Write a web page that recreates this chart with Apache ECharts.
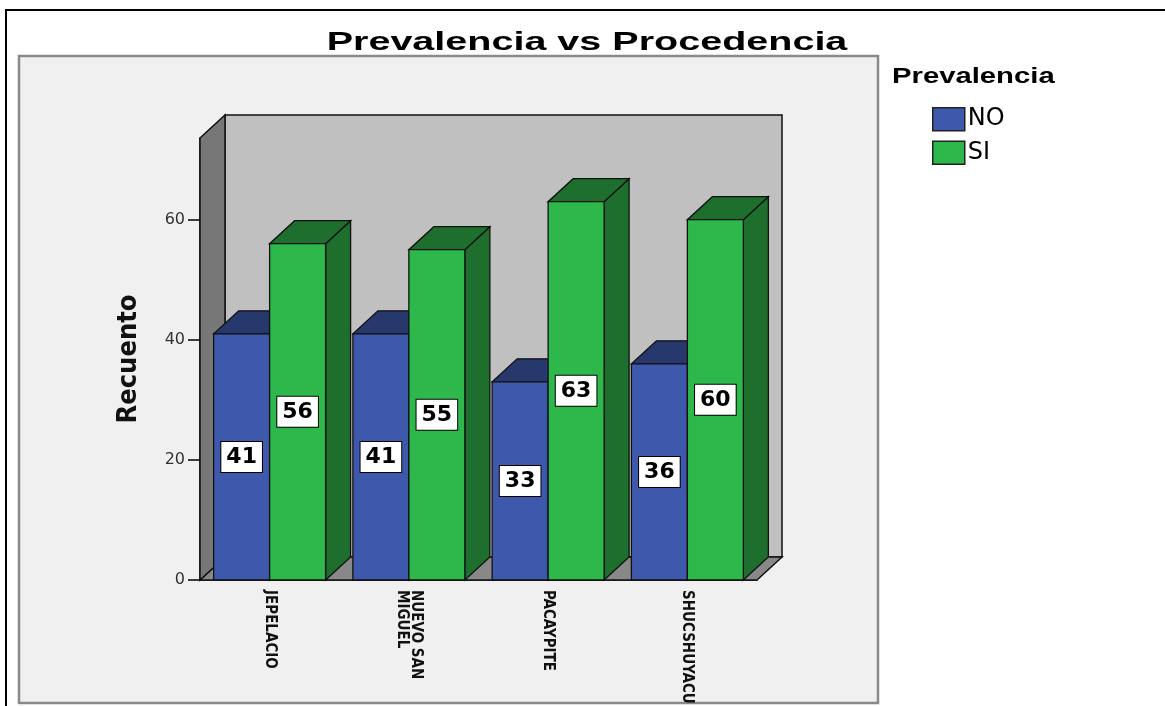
<!DOCTYPE html>
<html>
<head>
<meta charset="utf-8">
<script src="https://cdn.jsdelivr.net/npm/echarts@6/dist/echarts.min.js"></script>
<style>
  html, body { margin: 0; padding: 0; background: #ffffff; }
  #chart { width: 1165px; height: 706px; }
</style>
</head>
<body>
<div id="chart"></div>
<script>
// Procedencia categories and counts per Prevalencia group
const categories = ['JEPELACIO', 'NUEVO SAN\nMIGUEL', 'PACAYPITE', 'SHUCSHUYACU'];
const seriesNames = ['NO', 'SI'];
const valuesNO = [41, 41, 33, 36];
const valuesSI = [56, 55, 63, 60];
const yTickLabels = [0, 20, 40, 60];
const yInterval = 20;
const yMax = 73.6;

// 3D look: depth offset of the chamber and bars (pixels)
const DX = 25, DY = -23;
const BAR_RATIO = 0.402;
const EDGE = '#111111';
const NARROW = "'Liberation Sans Narrow', 'DejaVu Sans Condensed', 'Liberation Sans', sans-serif";

const palette = {
  NO: { front: '#3e58ac', dark: '#26386c' },
  SI: { front: '#2eb84b', dark: '#1e6e2d' }
};

// Back wall, left wall and floor of the chart box, built from the grid rectangle
function renderChamber(params, api) {
  const cs = params.coordSys;
  const x = cs.x, y = cs.y, w = cs.width, h = cs.height;
  const line = { stroke: EDGE, lineWidth: 1.5 };
  return {
    type: 'group',
    children: [
      { type: 'rect', shape: { x: x + DX, y: y + DY, width: w, height: h },
        style: Object.assign({ fill: '#c0c0c0' }, line) },
      { type: 'polygon', shape: { points: [[x, y + h], [x + w, y + h], [x + w + DX, y + h + DY], [x + DX, y + h + DY]] },
        style: Object.assign({ fill: '#888888' }, line) },
      { type: 'polygon', shape: { points: [[x, y], [x + DX, y + DY], [x + DX, y + h + DY], [x, y + h]] },
        style: Object.assign({ fill: '#777777' }, line) }
    ]
  };
}

// One 3D bar: side face, top face, front face and a boxed value label
function barRenderer(slot, colors) {
  return function (params, api) {
    const cat = api.value(0);
    const val = api.value(1);
    const top = api.coord([cat, val]);
    const base = api.coord([cat, 0]);
    const mid = api.coord([cat, val / 2]);
    const bw = api.size([1, 0])[0] * BAR_RATIO;
    const x0 = slot === 0 ? top[0] - bw : top[0];
    const x1 = x0 + bw;
    const yT = top[1], yB = base[1];
    const edge = { stroke: EDGE, lineWidth: 1.3 };
    return {
      type: 'group',
      children: [
        { type: 'polygon', shape: { points: [[x1, yB], [x1 + DX, yB + DY], [x1 + DX, yT + DY], [x1, yT]] },
          style: Object.assign({ fill: colors.dark }, edge) },
        { type: 'polygon', shape: { points: [[x0, yT], [x1, yT], [x1 + DX, yT + DY], [x0 + DX, yT + DY]] },
          style: Object.assign({ fill: colors.dark }, edge) },
        { type: 'rect', shape: { x: x0, y: yT, width: bw, height: yB - yT },
          style: Object.assign({ fill: colors.front }, edge) },
        { type: 'text', x: (x0 + x1) / 2, y: mid[1],
          style: {
            text: String(val), align: 'center', verticalAlign: 'middle',
            fontFamily: 'DejaVu Sans', fontWeight: 'bold', fontSize: 22, fill: '#000',
            backgroundColor: '#ffffff', borderColor: '#000', borderWidth: 1,
            padding: [5, 5, 3, 5]
          } }
      ]
    };
  };
}

const chart = echarts.init(document.getElementById('chart'));

const option = {
  backgroundColor: '#ffffff',
  animation: false,
  graphic: [
    { type: 'rect', z: -10, silent: true,
      shape: { x: 6, y: 10, width: 1200, height: 800 },
      style: { fill: '#ffffff', stroke: '#000', lineWidth: 2 } },
    { type: 'rect', z: -9, silent: true,
      shape: { x: 19, y: 56, width: 859, height: 647 },
      style: { fill: '#f0f0f0', stroke: '#8a8a8a', lineWidth: 2.5 } },
    { type: 'text', z: 10, x: 587, y: 43, scaleX: 1.52, silent: true,
      style: { text: 'Prevalencia vs Procedencia', align: 'center', verticalAlign: 'middle',
               fontFamily: 'Liberation Sans', fontWeight: 'bold', fontSize: 26, fill: '#000' } },
    { type: 'text', z: 10, x: 892, y: 77, scaleX: 1.33, silent: true,
      style: { text: 'Prevalencia', align: 'left', verticalAlign: 'middle',
               fontFamily: 'Liberation Sans', fontWeight: 'bold', fontSize: 22, fill: '#000' } }
  ],
  legend: {
    data: seriesNames,
    orient: 'vertical',
    left: 927,
    top: 102,
    itemWidth: 32,
    itemHeight: 23,
    itemGap: 9,
    icon: 'rect',
    itemStyle: { borderColor: '#222', borderWidth: 1.5 },
    textStyle: { fontFamily: 'DejaVu Sans', fontSize: 24, color: '#000', padding: [0, 0, 0, -2] }
  },
  grid: { left: 200, top: 138, width: 557, height: 442, containLabel: false, outerBoundsMode: 'none' },
  xAxis: {
    type: 'category',
    data: categories,
    boundaryGap: true,
    axisLine: { lineStyle: { color: '#000', width: 1.5 } },
    axisTick: { alignWithLabel: true, length: 9, lineStyle: { color: '#000', width: 1.5 } },
    axisLabel: {
      interval: 0, rotate: -90, margin: 10,
      fontFamily: NARROW, fontWeight: 'bold', fontSize: 15, lineHeight: 14, color: '#111'
    },
    splitLine: { show: false }
  },
  yAxis: {
    type: 'value',
    min: 0,
    max: yMax,
    interval: yInterval,
    name: 'Recuento',
    nameLocation: 'middle',
    nameRotate: 90,
    nameGap: 58,
    nameTextStyle: { fontFamily: NARROW, fontWeight: 'bold', fontSize: 27, color: '#111' },
    axisLine: { show: true, lineStyle: { color: '#000', width: 1.5 } },
    axisTick: { show: true, length: 12, lineStyle: { color: '#000', width: 1.5 } },
    axisLabel: {
      margin: 15, fontFamily: 'DejaVu Sans', fontSize: 16, color: '#333',
      showMaxLabel: false,
      formatter: v => (yTickLabels.indexOf(v) >= 0 ? String(v) : '')
    },
    splitLine: { show: false }
  },
  series: [
    {
      type: 'custom', name: 'chamber', silent: true, z: 1,
      renderItem: renderChamber,
      data: [[0, 0]],
      encode: { x: 0, y: 1 }
    },
    {
      type: 'custom', name: 'NO', z: 3,
      itemStyle: { color: palette.NO.front },
      renderItem: barRenderer(0, palette.NO),
      data: valuesNO.map((v, i) => [i, v]),
      encode: { x: 0, y: 1 }
    },
    {
      type: 'custom', name: 'SI', z: 4,
      itemStyle: { color: palette.SI.front },
      renderItem: barRenderer(1, palette.SI),
      data: valuesSI.map((v, i) => [i, v]),
      encode: { x: 0, y: 1 }
    }
  ]
};

chart.setOption(option);
</script>
</body>
</html>
